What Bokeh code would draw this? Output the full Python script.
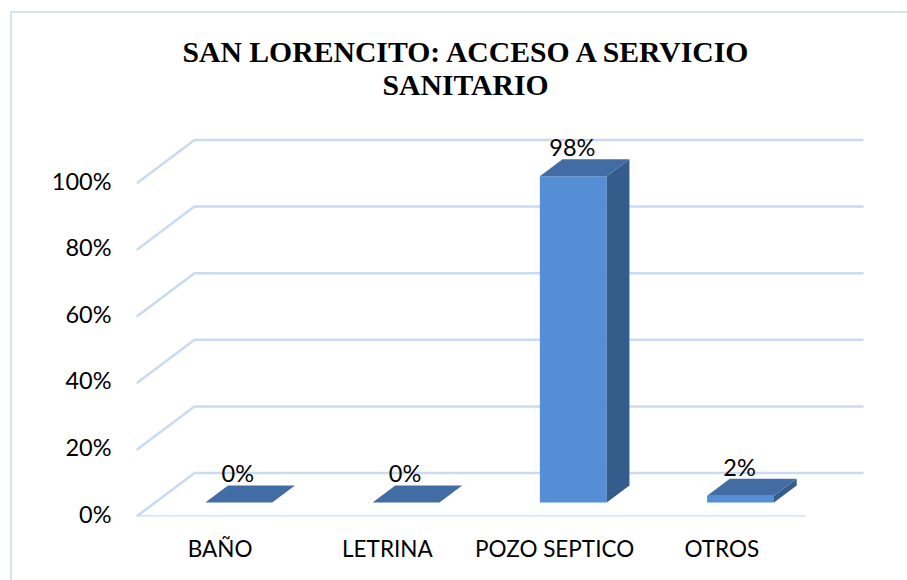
from bokeh.embed import file_html
from bokeh.models import (ColumnDataSource, FixedTicker, LinearAxis, Range1d, Title)
from bokeh.plotting import figure
from bokeh.resources import INLINE

TITLE_LINES = ["SAN LORENCITO: ACCESO A SERVICIO", "SANITARIO"]
CATEGORIES = ["BAÑO", "LETRINA", "POZO SEPTICO", "OTROS"]
VALUES = [0, 0, 98, 2]
LABELS = ["0%", "0%", "98%", "2%"]
TICKS = [0, 20, 40, 60, 80, 100]
TICK_LABELS = ["0%", "20%", "40%", "60%", "80%", "100%"]

W, H = 897, 569
FRAME_L, FRAME_R, FRAME_T, FRAME_B = 124, 855, 110, 503
PX_X = 167.25      # pixels per category
PX_Y = 3.33        # pixels per percentage point
WALL_X = 58 / PX_X
WALL_Y = 43.5 / PX_Y
BAR_W = 0.40
D0, D1 = 0.322, 0.713
LABEL_LIFT = 3 / PX_Y   # tick labels sit slightly above their gridlines

y_top = (FRAME_B - FRAME_T) / PX_Y
p = figure(width=W, height=H, output_backend="svg", toolbar_location=None,
           x_range=Range1d(0, (FRAME_R - FRAME_L) / PX_X),
           y_range=Range1d(0, y_top),
           min_border_left=FRAME_L, min_border_right=W - FRAME_R,
           min_border_top=FRAME_T, min_border_bottom=H - FRAME_B,
           x_axis_type=None, y_axis_type=None, outline_line_color=None,
           margin=(11, 0, 0, 10),
           styles={"border-top": "2px solid #d6e3f5",
                   "border-left": "2px solid #d6e3f5",
                   "box-sizing": "border-box"})
p.grid.visible = False
p.extra_y_ranges = {"labels": Range1d(-LABEL_LIFT, y_top - LABEL_LIFT)}

n = len(CATEGORIES)

# gridlines: side wall and back wall
grid_c = "#c9daf1"
xs, ys = [], []
for t in TICKS:
    xs.append([0, WALL_X, n + WALL_X])
    ys.append([t, t + WALL_Y, t + WALL_Y])
xs.append([0, n])
ys.append([0, 0])
p.multi_line(xs, ys, line_color=grid_c, line_width=2.5)


def proj(x, v, d):
    return x + d * WALL_X, v + d * WALL_Y


front_x, front_y, side_x, side_y, top_x, top_y = [], [], [], [], [], []
for i, v in enumerate(VALUES):
    l, r = i + 0.5 - BAR_W / 2, i + 0.5 + BAR_W / 2
    fl = proj(l, 0, D0); fr = proj(r, 0, D0)
    ftl = proj(l, v, D0); ftr = proj(r, v, D0)
    bl = proj(l, v, D1); br = proj(r, v, D1); br0 = proj(r, 0, D1)
    front_x.append([fl[0], fr[0], ftr[0], ftl[0]])
    front_y.append([fl[1], fr[1], ftr[1], ftl[1]])
    side_x.append([fr[0], br0[0], br[0], ftr[0]])
    side_y.append([fr[1], br0[1], br[1], ftr[1]])
    top_x.append([ftl[0], ftr[0], br[0], bl[0]])
    top_y.append([ftl[1], ftr[1], br[1], bl[1]])

p.patches(front_x, front_y, fill_color="#558ed5", line_color=None)
p.patches(side_x, side_y, fill_color="#355d8c", line_color=None)
p.patches(top_x, top_y, fill_color="#416da4", line_color=None)

# data labels
src = ColumnDataSource(dict(
    x=[proj(i + 0.5, 0, D0)[0] - 0.006 for i in range(n)],
    y=[v + D1 * WALL_Y for v in VALUES],
    t=LABELS))
p.text("x", "y", text="t", source=src, text_align="center",
       text_baseline="bottom", text_font_size="23.5px", y_offset=2,
       text_font={"value": "Lato"}, text_color="#000000")

# axes
yax = LinearAxis(y_range_name="labels", ticker=FixedTicker(ticks=TICKS),
                 major_label_overrides=dict(zip(TICKS, TICK_LABELS)))
xax = LinearAxis(ticker=FixedTicker(ticks=[i + 0.5 for i in range(n)]),
                 major_label_overrides={i + 0.5: c for i, c in enumerate(CATEGORIES)})
for ax, standoff, size in ((yax, 19, "23.5px"), (xax, 12, "22.5px")):
    ax.axis_line_color = None
    ax.major_tick_line_color = None
    ax.minor_tick_line_color = None
    ax.major_label_standoff = standoff
    ax.major_label_text_font = "Lato"
    ax.major_label_text_font_size = size
    ax.major_label_text_color = "#000000"
p.add_layout(yax, "left")
p.add_layout(xax, "below")

# title: two stacked lines, pushed away from the frame by a blank spacer
p.add_layout(Title(text=" ", text_font_size="8px"), "above")
for line, off, standoff in zip(reversed(TITLE_LINES), (246, 46), (4, -7)):
    p.add_layout(Title(text=line, align="left", offset=off, standoff=standoff,
                       text_font="Liberation Serif", text_font_style="bold",
                       text_font_size="29.7px", text_color="#000000"), "above")

open("out.html", "w").write(file_html(p, INLINE))
